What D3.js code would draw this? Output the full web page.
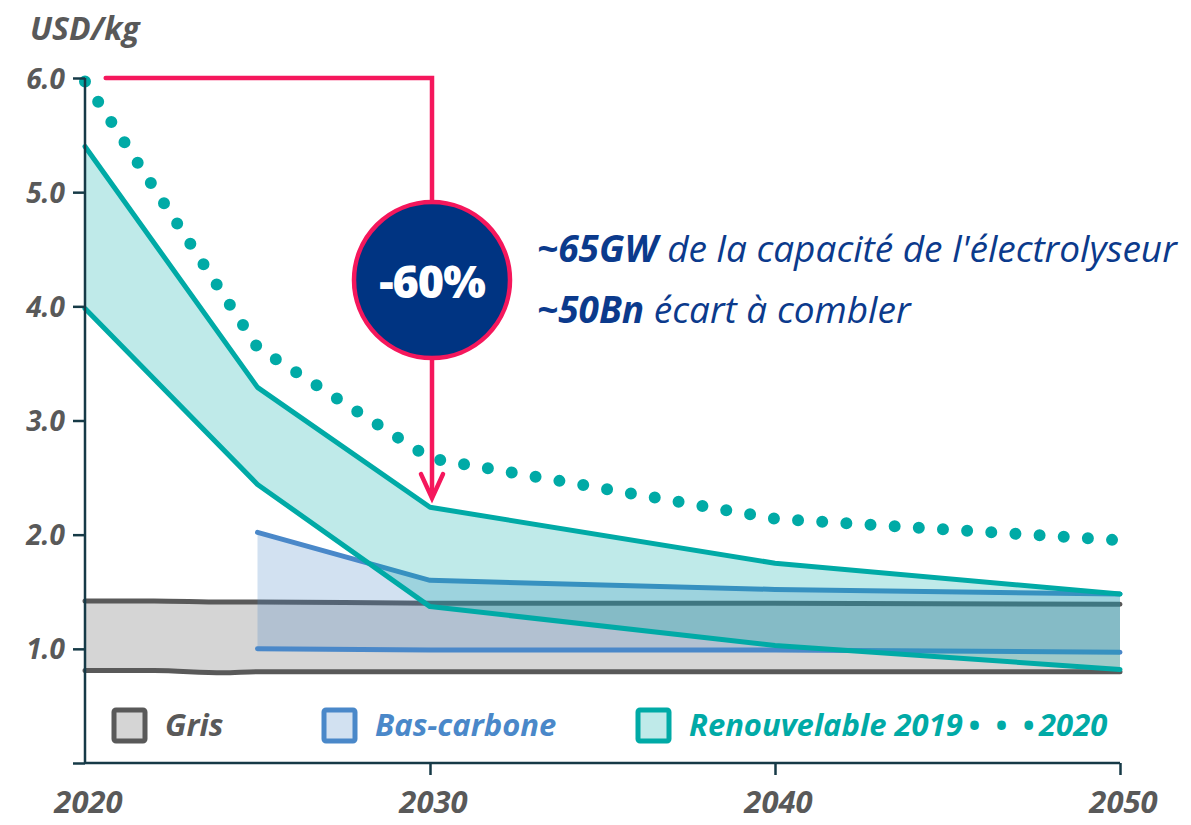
<!DOCTYPE html>
<html>
<head>
<meta charset="utf-8">
<script src="https://cdn.jsdelivr.net/npm/d3@7/dist/d3.min.js"></script>
<style>
  body { margin: 0; background: #fff; }
  svg text { font-family: "Open Sans", "Noto Sans", sans-serif; }
</style>
</head>
<body>
<svg id="chart" width="1191" height="825"></svg>
<script>

// data (USD/kg)
var years = [2020, 2025, 2030, 2040, 2050];
var grisYears = [2020, 2022, 2024, 2025, 2030, 2040, 2050];
var grisHigh = [1.42, 1.42, 1.41, 1.41, 1.40, 1.40, 1.39];
var grisLow = [0.81, 0.81, 0.79, 0.80, 0.80, 0.80, 0.80];
var basYears = [2025, 2030, 2040, 2050];
var basHigh = [2.02, 1.60, 1.52, 1.48];
var basLow = [1.00, 0.99, 0.99, 0.97];
var ren2019High = [5.40, 3.29, 2.24, 1.75, 1.48];
var ren2019Low = [3.98, 2.44, 1.37, 1.03, 0.82];
var ren2020 = [5.97, 3.64, 2.67, 2.14, 1.95];
var yTicks = [0, 1, 2, 3, 4, 5, 6];
var xTicks = [2020, 2030, 2040, 2050];

var grey = "#595959", blue = "#4a88c9", teal = "#00aaa6",
    pink = "#f5175c", navy = "#003482", axisCol = "#163a47";

var svg = d3.select("#chart");

///////////////////////
// Scales
var x = d3.scaleLinear().domain([2020, 2050]).range([85, 1120]);
var y = d3.scaleLinear().domain([0, 6]).range([763, 78]);

function band(xs, hi, lo) {
  return xs.map(function(d, i) { return { year: d, hi: hi[i], lo: lo[i] }; });
}

var area = d3.area()
    .x(function(d) { return x(d.year); })
    .y0(function(d) { return y(d.lo); })
    .y1(function(d) { return y(d.hi); });
var lineHi = d3.line().x(function(d) { return x(d.year); }).y(function(d) { return y(d.hi); });
var lineLo = d3.line().x(function(d) { return x(d.year); }).y(function(d) { return y(d.lo); });

var series = [
  { data: band(grisYears, grisHigh, grisLow), stroke: grey, fill: "#d5d5d5", op: 1, curve: d3.curveMonotoneX },
  { data: band(basYears, basHigh, basLow), stroke: blue, fill: blue, op: 0.25, curve: d3.curveLinear },
  { data: band(years, ren2019High, ren2019Low), stroke: teal, fill: teal, op: 0.25, curve: d3.curveLinear }
];

series.forEach(function(s) {
  svg.append("path")
      .datum(s.data)
      .attr("fill", s.fill)
      .attr("fill-opacity", s.op)
      .attr("d", area.curve(s.curve));
  [lineHi, lineLo].forEach(function(l) {
    svg.append("path")
        .datum(s.data)
        .attr("fill", "none")
        .attr("stroke", s.stroke)
        .attr("stroke-width", 5)
        .attr("stroke-linecap", "round")
        .attr("stroke-linejoin", "round")
        .attr("d", l.curve(s.curve));
  });
});

// 2020 dotted line
svg.append("path")
    .datum(years.map(function(d, i) { return { year: d, hi: ren2020[i] }; }))
    .attr("fill", "none")
    .attr("stroke", teal)
    .attr("stroke-width", 12)
    .attr("stroke-linecap", "round")
    .attr("stroke-dasharray", "0 24.2")
    .attr("d", lineHi.curve(d3.curveLinear));

///////////////////////
// Axis
var yAxis = svg.append("g")
    .attr("transform", "translate(" + x(2020) + ",0)")
    .call(d3.axisLeft(y).tickValues(yTicks).tickSize(12).tickFormat(function(d) { return d ? d.toFixed(1) : ""; }));
var xAxis = svg.append("g")
    .attr("transform", "translate(0," + y(0) + ")")
    .call(d3.axisBottom(x).tickValues(xTicks).tickSize(12).tickFormat(d3.format("d")));

[yAxis, xAxis].forEach(function(a) {
  a.select(".domain").attr("stroke", axisCol).attr("stroke-width", 2.5);
  a.selectAll(".tick line").attr("stroke", axisCol).attr("stroke-width", 2.5);
  a.selectAll(".tick text")
      .attr("fill", grey)
      .style("font-size", "28px")
      .style("font-weight", 700)
      .style("font-style", "italic");
});
xAxis.select(".domain").attr("d", "M" + x(2020) + ",0H" + x(2050));
xAxis.selectAll(".tick").filter(function(d) { return d === 2020; }).select("line").remove();
xAxis.selectAll(".tick text")
    .style("font-size", "31px")
    .attr("y", 0).attr("dy", "50px").attr("dx", 3);
yAxis.select(".domain").attr("d", "M0," + y(6) + "V" + y(0));
yAxis.selectAll(".tick text").attr("x", -20).attr("dy", "0.36em");

svg.append("text")
    .text("USD/kg")
    .attr("x", 30)
    .attr("y", 40)
    .attr("fill", grey)
    .style("font-size", "32px")
    .style("font-weight", 700)
    .style("font-style", "italic");

///////////////////////
// -60% annotation
var ax = x(2030) + 2, circY = y(4.23), r = 78, tipY = y(2.32);
svg.append("path")
    .attr("d", "M" + x(2020.6) + "," + y(6) + "H" + ax + "V" + (tipY - 4))
    .attr("fill", "none")
    .attr("stroke", pink)
    .attr("stroke-width", 4.5)
    .attr("stroke-linecap", "round");
svg.append("path")
    .attr("d", "M" + (ax - 11) + "," + (tipY - 24) + "L" + ax + "," + tipY + "L" + (ax + 11) + "," + (tipY - 24))
    .attr("fill", "none")
    .attr("stroke", pink)
    .attr("stroke-width", 4.5)
    .attr("stroke-linecap", "round")
    .attr("stroke-linejoin", "miter");
svg.append("circle")
    .attr("cx", ax).attr("cy", circY).attr("r", r)
    .attr("fill", navy)
    .attr("stroke", pink)
    .attr("stroke-width", 4.5);
svg.append("text")
    .text("-60%")
    .attr("x", ax)
    .attr("y", circY + 18)
    .attr("text-anchor", "middle")
    .attr("fill", "#fff")
    .style("font-size", "45px")
    .style("font-weight", 800)
    .style("letter-spacing", "-1px");

var notes = [["~65GW", " de la capacité de l'électrolyseur"], ["~50Bn", " écart à combler"]];
notes.forEach(function(n, i) {
  var t = svg.append("text")
      .attr("x", 537)
      .attr("y", 262 + i * 61)
      .attr("fill", "#0b3a8c")
      .style("font-size", "37px")
      .style("font-style", "italic");
  t.append("tspan").text(n[0]).style("font-weight", 700);
  t.append("tspan").text(n[1]);
});

///////////////////////
// Legend
var legend = [
  { label: "Gris", x: 114, stroke: grey, fill: "#d5d5d5", op: 1 },
  { label: "Bas-carbone", x: 324, stroke: blue, fill: blue, op: 0.25 },
  { label: "Renouvelable 2019\u2009•\u2002•\u2002•\u20092020", x: 638, stroke: teal, fill: teal, op: 0.25 }
];
var lg = svg.append("g").selectAll("g").data(legend).enter().append("g");
lg.append("rect")
    .attr("x", function(d) { return d.x; })
    .attr("y", 710)
    .attr("width", 31).attr("height", 31).attr("rx", 2)
    .attr("fill", function(d) { return d.fill; })
    .attr("fill-opacity", function(d) { return d.op; })
    .attr("stroke", function(d) { return d.stroke; })
    .attr("stroke-width", 5);
lg.append("text")
    .text(function(d) { return d.label; })
    .attr("x", function(d) { return d.x + 51; })
    .attr("y", 736)
    .attr("fill", function(d) { return d.stroke; })
    .style("font-size", "31px")
    .style("font-weight", 700)
    .style("font-style", "italic");

</script>
</body>
</html>
